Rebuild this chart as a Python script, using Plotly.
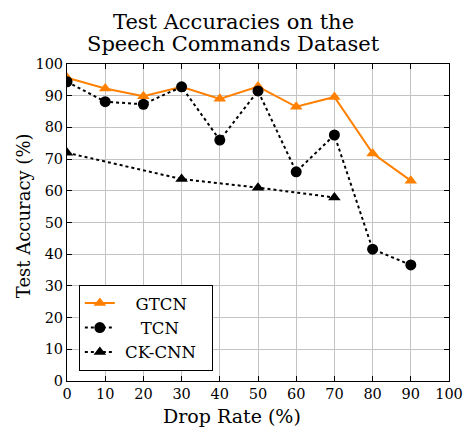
import plotly.graph_objects as go

drop_rates = [0, 10, 20, 30, 40, 50, 60, 70, 80, 90]
gtcn = [95.7, 92.3, 89.8, 92.8, 89.0, 92.9, 86.5, 89.6, 71.8, 63.2]
tcn = [94.4, 88.1, 87.3, 92.8, 76.0, 91.5, 66.0, 77.6, 41.6, 36.6]
ckcnn_x = [0, 30, 50, 70]
ckcnn = [72.0, 63.7, 61.0, 57.9]
series_names = ["GTCN", "TCN", "CK-CNN"]
nb = "\u00a0"
legend_lead = [nb * 3, nb * 4, nb * 1]
legend_trail = ["", "", nb * 2]

title_lines = ["Test Accuracies on the", "Speech Commands Dataset"]
x_title = "Drop Rate (%)"
y_title = "Test Accuracy (%)"

font = "DejaVu Serif"
orange = "rgb(255,128,0)"

def lname(i):
    return legend_lead[i] + series_names[i] + legend_trail[i]

fig = go.Figure()
fig.add_trace(go.Scatter(x=drop_rates, y=gtcn, name=lname(0), mode="lines+markers",
                         line=dict(color=orange, width=2),
                         marker=dict(symbol="triangle-up", size=11, color=orange)))
fig.add_trace(go.Scatter(x=drop_rates, y=tcn, name=lname(1), mode="lines+markers",
                         line=dict(color="black", width=2, dash="dot"),
                         marker=dict(symbol="circle", size=11, color="black")))
fig.add_trace(go.Scatter(x=ckcnn_x, y=ckcnn, name=lname(2), mode="lines+markers",
                         line=dict(color="black", width=2, dash="dot"),
                         marker=dict(symbol="triangle-up", size=11, color="black")))

axis_common = dict(range=[0, 100], dtick=10, showgrid=True, gridcolor="rgb(195,195,195)",
                   gridwidth=1, showline=True, linecolor="black", linewidth=1, mirror="ticks",
                   ticks="inside", ticklen=5, tickcolor="black", zeroline=False, automargin=False,
                   tickfont=dict(family=font, size=14.5, color="black"))

fig.update_layout(
    width=464, height=432,
    margin=dict(l=67, r=15, t=64, b=51),
    paper_bgcolor="white", plot_bgcolor="white",
    xaxis=axis_common,
    yaxis=axis_common,
    legend=dict(x=0.031, y=0.032, xanchor="left", yanchor="bottom", bgcolor="white",
                bordercolor="black", borderwidth=1,
                font=dict(family=font, size=16.5, color="black"), tracegroupgap=0),
    showlegend=True,
    annotations=[
        dict(text=title_lines[0], xref="paper", yref="paper",
             x=0.437, y=1, xanchor="center", yanchor="middle", yshift=42, showarrow=False,
             font=dict(family=font, size=21, color="black")),
        dict(text=title_lines[1], xref="paper", yref="paper",
             x=0.437, y=1, xanchor="center", yanchor="middle", yshift=20, showarrow=False,
             font=dict(family=font, size=21, color="black")),
        dict(text=x_title, xref="paper", yref="paper",
             x=0.432, y=0, xanchor="center", yanchor="middle", yshift=-35, showarrow=False,
             font=dict(family=font, size=19, color="black")),
        dict(text=y_title, xref="paper", yref="paper", textangle=-90,
             x=0, y=0.52, xanchor="center", yanchor="middle", xshift=-44, showarrow=False,
             font=dict(family=font, size=18, color="black")),
    ],
)

fig.write_html("out.html", config={"displayModeBar": False},
               post_script="document.body.style.margin='0';document.body.style.overflow='hidden';")
